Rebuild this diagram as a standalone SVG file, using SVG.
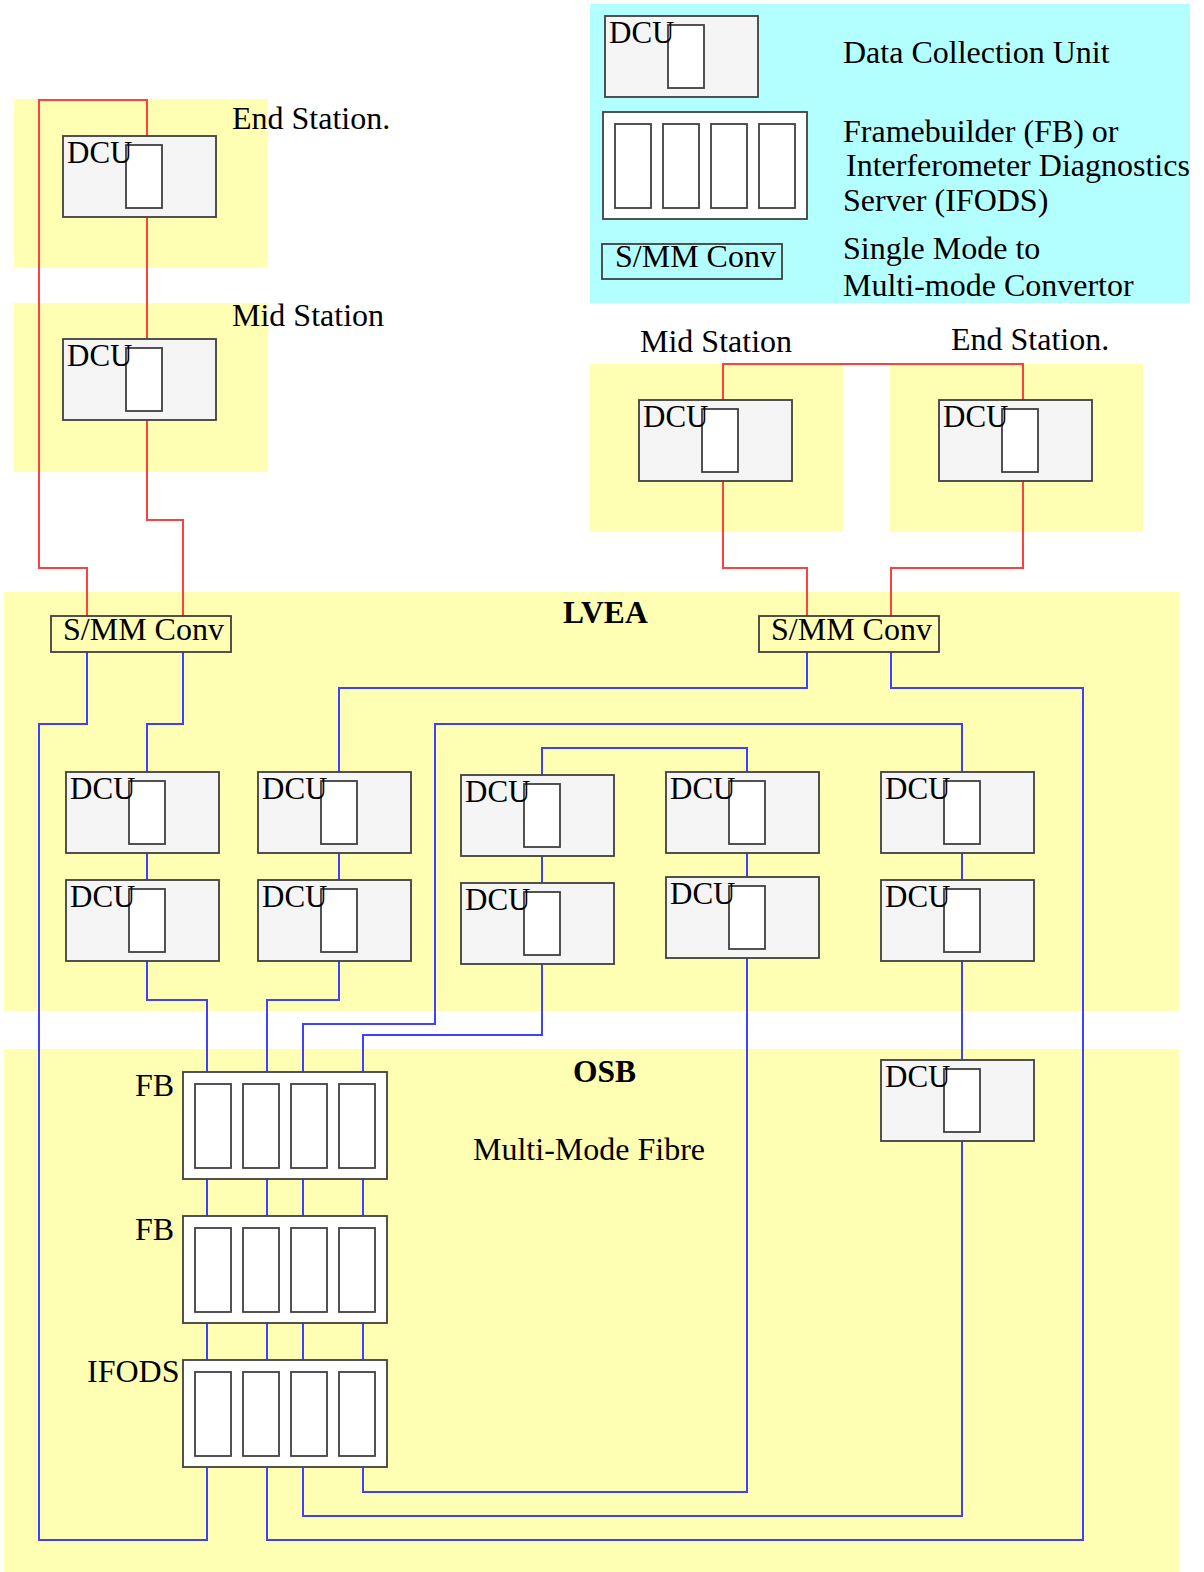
<svg xmlns="http://www.w3.org/2000/svg" width="1204" height="1572" viewBox="0 0 1204 1572">
<style>
.yel{fill:#ffffb3}
.cyan{fill:#b3ffff}
.dcu{fill:#f5f5f5;stroke:#404040;stroke-width:1.8}
.slot{fill:#fff;stroke:#404040;stroke-width:1.8}
.fb{fill:#fff;stroke:#404040;stroke-width:1.8}
.conv{fill:none;stroke:#404040;stroke-width:1.8}
.red{fill:none;stroke:#ff4040;stroke-width:2}
.blue{fill:none;stroke:#4040ff;stroke-width:2}
text{font-family:"Liberation Serif","Times New Roman",serif;font-size:32px;fill:#000}
.d{font-size:31px}
.b{font-weight:bold;font-size:31.5px}
</style>
<defs>
<g id="dcuT">
<rect class="dcu" x="0" y="0" width="153" height="81"/>
<rect class="slot" x="63" y="9" width="36" height="63"/>
</g>
<g id="fbT">
<rect class="fb" x="0" y="0" width="204" height="107"/>
<rect class="slot" x="12" y="12" width="36" height="84"/>
<rect class="slot" x="60" y="12" width="36" height="84"/>
<rect class="slot" x="108" y="12" width="36" height="84"/>
<rect class="slot" x="156" y="12" width="36" height="84"/>
</g>
</defs>
<g id="areas">
<rect class="yel" x="14" y="99" width="254" height="169"/>
<rect class="yel" x="14" y="303" width="254" height="169"/>
<rect class="yel" x="590" y="364" width="253" height="168"/>
<rect class="yel" x="890" y="364" width="253" height="168"/>
<rect class="yel" x="4" y="592" width="1175" height="419"/>
<rect class="yel" x="4" y="1049" width="1175" height="523"/>
<rect class="cyan" x="590" y="4" width="600" height="299"/>
</g>
<g id="connectors">
<path class="red" d="M147,136 V100 H39 V568 H87 V616"/>
<path class="red" d="M147,217 V339"/>
<path class="red" d="M147,420 V520 H183 V616"/>
<path class="red" d="M723,400 V364 H1023 V400"/>
<path class="red" d="M723,481 V568 H807 V616"/>
<path class="red" d="M1023,481 V568 H891 V616"/>
<path class="blue" d="M87,652 V724 H39 V1540 H207 V1468"/>
<path class="blue" d="M183,652 V724 H147 V772"/>
<path class="blue" d="M147,853 V880"/>
<path class="blue" d="M147,961 V1000 H207 V1072"/>
<path class="blue" d="M339,853 V880"/>
<path class="blue" d="M339,961 V1000 H267 V1072"/>
<path class="blue" d="M807,652 V688 H339 V772"/>
<path class="blue" d="M891,652 V688 H1083 V1540 H267 V1468"/>
<path class="blue" d="M542,775 V748 H747 V772"/>
<path class="blue" d="M542,856 V883"/>
<path class="blue" d="M542,964 V1035 H363 V1072"/>
<path class="blue" d="M747,853 V877"/>
<path class="blue" d="M747,958 V1492 H363 V1468"/>
<path class="blue" d="M962,772 V724 H435 V1024 H303 V1072"/>
<path class="blue" d="M962,853 V880"/>
<path class="blue" d="M962,961 V1060"/>
<path class="blue" d="M962,1141 V1516 H303 V1468"/>
<path class="blue" d="M207,1179 V1216 M267,1179 V1216 M303,1179 V1216 M363,1179 V1216"/>
<path class="blue" d="M207,1323 V1360 M267,1323 V1360 M303,1323 V1360 M363,1323 V1360"/>
</g>
<g id="legend-dcu"><use href="#dcuT" x="605" y="16"/><text class="d" x="609" y="43">DCU</text></g>
<g id="legend-fb"><use href="#fbT" x="603" y="112"/></g>
<g id="legend-conv"><rect class="conv" x="602" y="244" width="180" height="35"/><text x="615" y="267">S/MM Conv</text></g>
<g id="legend-text">
<text x="843" y="63">Data Collection Unit</text>
<text x="843" y="142">Framebuilder (FB) or</text>
<text x="846" y="176">Interferometer Diagnostics</text>
<text x="843" y="211">Server (IFODS)</text>
<text x="843" y="259">Single Mode to</text>
<text x="843" y="296">Multi-mode Convertor</text>
</g>
<g id="dcu-end-left"><use href="#dcuT" x="63" y="136"/><text class="d" x="67" y="163">DCU</text></g>
<g id="dcu-mid-left"><use href="#dcuT" x="63" y="339"/><text class="d" x="67" y="366">DCU</text></g>
<g id="dcu-mid-right"><use href="#dcuT" x="639" y="400"/><text class="d" x="643" y="427">DCU</text></g>
<g id="dcu-end-right"><use href="#dcuT" x="939" y="400"/><text class="d" x="943" y="427">DCU</text></g>
<g id="conv-left"><rect class="conv" x="51" y="616" width="180" height="36"/><text x="63" y="640">S/MM Conv</text></g>
<g id="conv-right"><rect class="conv" x="759" y="616" width="180" height="36"/><text x="771" y="640">S/MM Conv</text></g>
<g id="dcu-1a"><use href="#dcuT" x="66" y="772"/><text class="d" x="70" y="799">DCU</text></g>
<g id="dcu-1b"><use href="#dcuT" x="66" y="880"/><text class="d" x="70" y="907">DCU</text></g>
<g id="dcu-2a"><use href="#dcuT" x="258" y="772"/><text class="d" x="262" y="799">DCU</text></g>
<g id="dcu-2b"><use href="#dcuT" x="258" y="880"/><text class="d" x="262" y="907">DCU</text></g>
<g id="dcu-3a"><use href="#dcuT" x="461" y="775"/><text class="d" x="465" y="802">DCU</text></g>
<g id="dcu-3b"><use href="#dcuT" x="461" y="883"/><text class="d" x="465" y="910">DCU</text></g>
<g id="dcu-4a"><use href="#dcuT" x="666" y="772"/><text class="d" x="670" y="799">DCU</text></g>
<g id="dcu-4b"><use href="#dcuT" x="666" y="877"/><text class="d" x="670" y="904">DCU</text></g>
<g id="dcu-5a"><use href="#dcuT" x="881" y="772"/><text class="d" x="885" y="799">DCU</text></g>
<g id="dcu-5b"><use href="#dcuT" x="881" y="880"/><text class="d" x="885" y="907">DCU</text></g>
<g id="dcu-osb"><use href="#dcuT" x="881" y="1060"/><text class="d" x="885" y="1087">DCU</text></g>
<g id="fb1"><use href="#fbT" x="183" y="1072"/><text x="135" y="1096">FB</text></g>
<g id="fb2"><use href="#fbT" x="183" y="1216"/><text x="135" y="1240">FB</text></g>
<g id="ifods"><use href="#fbT" x="183" y="1360"/><text x="87" y="1382">IFODS</text></g>
<g id="labels">
<text x="232" y="129">End Station.</text>
<text x="232" y="326">Mid Station</text>
<text x="640" y="352">Mid Station</text>
<text x="951" y="350">End Station.</text>
<text class="b" x="563" y="623">LVEA</text>
<text class="b" x="573" y="1082">OSB</text>
<text x="473" y="1160">Multi-Mode Fibre</text>
</g>
</svg>
